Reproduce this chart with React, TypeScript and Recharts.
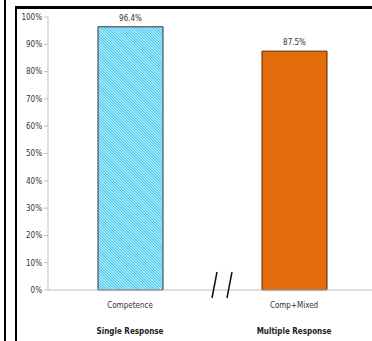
import React from "react";
import { BarChart, Bar, XAxis, YAxis, Cell, LabelList } from "recharts";

const categories = ["Competence", "Comp+Mixed"];
const groups = ["Single Response", "Multiple Response"];
const shares = [0.964, 0.875];
const yTicks = [0, 0.1, 0.2, 0.3, 0.4, 0.5, 0.6, 0.7, 0.8, 0.9, 1];

const data = categories.map((name, i) => ({ name, group: groups[i], value: shares[i] }));

const FONT = "'Liberation Sans Narrow', 'DejaVu Sans Condensed', sans-serif";
const pct = (v: number) => `${Math.round(v * 100)}%`;

function CategoryTick(props: any) {
  const { x, y, payload, index } = props;
  return (
    <g transform={`translate(${x},${y})`}>
      <text x={0} y={10} textAnchor="middle" fontSize={8} fill="#333" fontFamily={FONT}>
        {payload.value}
      </text>
      <text x={0} y={36} textAnchor="middle" fontSize={8} fontWeight="bold" fill="#222" fontFamily={FONT}>
        {groups[index]}
      </text>
    </g>
  );
}

export default function App() {
  return (
    <div style={{ position: "absolute", left: 0, top: 0, width: 372, height: 341, overflow: "hidden", background: "#fff" }}>
      {/* frame lines */}
      <div style={{ position: "absolute", left: 4, top: 0, width: 2, height: 341, background: "#000" }} />
      <div style={{ position: "absolute", left: 15, top: 7, width: 2, height: 334, background: "#000" }} />
      <div style={{ position: "absolute", left: 15, top: 6, width: 357, height: 3, background: "#000" }} />
      <div style={{ position: "absolute", left: 0, top: 0 }}>
        <BarChart width={380} height={341} data={data} margin={{ top: 17, right: 4, bottom: 0, left: 0 }} barCategoryGap={0}>
          <defs>
            <pattern id="hatch" width="2" height="2" patternUnits="userSpaceOnUse" patternTransform="rotate(-45)">
              <rect width="2" height="2" fill="#fff" />
              <rect width="1.2" height="2" fill="#2ec4f2" />
            </pattern>
          </defs>
          <YAxis
            width={48}
            domain={[0, 1]}
            ticks={yTicks}
            tickFormatter={pct}
            axisLine={{ stroke: "#bfbfbf" }}
            tickLine={{ stroke: "#bfbfbf" }}
            tickSize={4}
            tick={{ fontSize: 8, fill: "#333", fontFamily: FONT }}
            interval={0}
          />
          <XAxis
            dataKey="name"
            height={51}
            axisLine={{ stroke: "#bfbfbf" }}
            tickLine={false}
            tick={<CategoryTick />}
            interval={0}
          />
          <Bar dataKey="value" barSize={65} isAnimationActive={false} strokeWidth={1}>
            <Cell fill="url(#hatch)" stroke="#333" />
            <Cell fill="#e36c0a" stroke="#5a2600" />
            <LabelList
              dataKey="value"
              position="top"
              offset={6}
              formatter={(v: any) => `${(Number(v) * 100).toFixed(1)}%`}
              style={{ fontSize: 8, fill: "#333", fontFamily: FONT }}
            />
          </Bar>
        </BarChart>
      </div>
      {/* axis break marks between the two groups */}
      <svg style={{ position: "absolute", left: 0, top: 0 }} width={372} height={341}>
        <line x1={217} y1={272} x2={212} y2={298} stroke="#111" strokeWidth={1.5} />
        <line x1={232} y1={272} x2={227} y2={298} stroke="#111" strokeWidth={1.5} />
      </svg>
    </div>
  );
}
